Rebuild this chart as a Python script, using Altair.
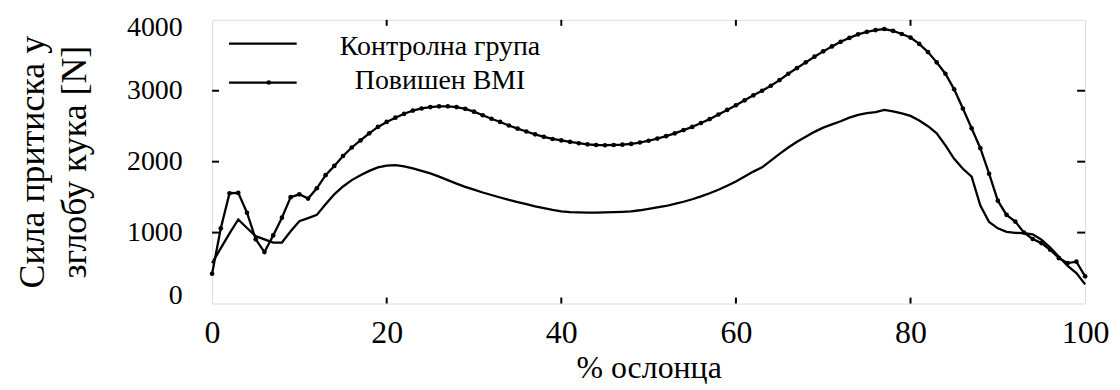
import altair as alt
import pandas as pd

# ---- data ----
pct = list(range(101))
control = [570, 780, 990, 1185, 1065, 950, 905, 860, 860, 1020,
           1160, 1205, 1250, 1400, 1540, 1650, 1740, 1810, 1870, 1920,
           1945, 1950, 1935, 1905, 1870, 1835, 1790, 1740, 1690, 1645,
           1605, 1565, 1530, 1495, 1460, 1430, 1400, 1370, 1345, 1320,
           1300, 1290, 1285, 1282, 1282, 1285, 1288, 1293, 1300, 1315,
           1335, 1355, 1375, 1405, 1435, 1470, 1510, 1555, 1605, 1660,
           1720, 1790, 1860, 1920, 2015, 2110, 2200, 2280, 2350, 2420,
           2480, 2525, 2570, 2620, 2660, 2685, 2700, 2730, 2710, 2680,
           2645, 2580, 2500, 2400, 2230, 2040, 1900, 1790, 1380, 1150,
           1060, 1010, 995, 992, 975, 900, 790, 660, 530, 430, 270]
bmi = [420, 1060, 1555, 1560, 1280, 905, 725, 960, 1210, 1500,
       1540, 1480, 1625, 1810, 1940, 2080, 2200, 2300, 2400, 2490,
       2560, 2620, 2675, 2720, 2750, 2770, 2780, 2780, 2770, 2745,
       2705, 2655, 2605, 2560, 2510, 2465, 2425, 2385, 2350, 2320,
       2300, 2280, 2260, 2245, 2235, 2232, 2235, 2240, 2250, 2270,
       2295, 2325, 2360, 2400, 2445, 2490, 2545, 2600, 2665, 2730,
       2795, 2865, 2935, 3000, 3070, 3150, 3240, 3320, 3400, 3480,
       3555, 3625, 3690, 3745, 3795, 3830, 3855, 3870, 3845, 3800,
       3750, 3660, 3545, 3400, 3240, 3020, 2750, 2470, 2190, 1830,
       1450, 1250, 1155, 1000, 910, 852, 758, 640, 570, 590, 383]
series_names = ["Контролна група", "Повишен BMI"]
x_ticks = [0, 20, 40, 60, 80, 100]
y_ticks = [0, 1000, 2000, 3000, 4000]
x_inner_ticks = [20, 40, 60, 80]
y_inner_ticks = [1000, 2000, 3000]
x_title = "% ослонца"
y_title = ["Сила притиска у", "зглобу кука [N]"]

FONT = "Liberation Serif, Times New Roman, serif"
W, H = 877, 285

df_c = pd.DataFrame({"pct": pct, "force": control})
df_b = pd.DataFrame({"pct": pct, "force": bmi})

xs = alt.Scale(domain=[0, 100], nice=False)
ys = alt.Scale(domain=[0, 4000], nice=False)

xaxis = alt.Axis(values=x_ticks, tickSize=0, domain=False, grid=False,
                 labelFont=FONT, labelFontSize=32, labelPadding=14,
                 labelColor="black", labelFlush=False, format="d",
                 title=x_title, titleFont=FONT, titleFontSize=32,
                 titleFontWeight="normal", titleColor="black", titlePadding=4)
yaxis = alt.Axis(values=y_ticks, tickSize=0, domain=False, grid=False,
                 labelFont=FONT, labelFontSize=28, labelPadding=30,
                 labelColor="black", labelFlush=True, labelFlushOffset=6,
                 format="d",
                 title=y_title, titleFont=FONT, titleFontSize=36,
                 titleFontWeight="normal", titleColor="black",
                 titlePadding=33, titleLineHeight=42)

line_c = alt.Chart(df_c).mark_line(color="black", strokeWidth=2.3).encode(
    x=alt.X("pct:Q", scale=xs, axis=xaxis),
    y=alt.Y("force:Q", scale=ys, axis=yaxis),
)
line_b = alt.Chart(df_b).mark_line(
    color="black", strokeWidth=2.3,
    point=alt.OverlayMarkDef(filled=True, color="black", size=22, opacity=1),
).encode(
    x=alt.X("pct:Q", scale=xs),
    y=alt.Y("force:Q", scale=ys),
)

# inner tick marks on the frame
df_xt = pd.DataFrame({"v": x_inner_ticks})
df_yt = pd.DataFrame({"v": y_inner_ticks})
tick_style = dict(color="black", strokeWidth=2)
xt_bottom = alt.Chart(df_xt).mark_rule(**tick_style).encode(
    x=alt.X("v:Q", scale=xs), y=alt.value(H), y2=alt.value(H - 6))
xt_top = alt.Chart(df_xt).mark_rule(**tick_style).encode(
    x=alt.X("v:Q", scale=xs), y=alt.value(0), y2=alt.value(6))
yt_left = alt.Chart(df_yt).mark_rule(**tick_style).encode(
    y=alt.Y("v:Q", scale=ys), x=alt.value(0), x2=alt.value(7))
yt_right = alt.Chart(df_yt).mark_rule(**tick_style).encode(
    y=alt.Y("v:Q", scale=ys), x=alt.value(W), x2=alt.value(W - 8))

# legend drawn inside the frame
leg_c = pd.DataFrame({"name": [series_names[0]]})
leg_b = pd.DataFrame({"name": [series_names[1]]})
leg_line_c = alt.Chart(leg_c).mark_rule(color="black", strokeWidth=2.3).encode(
    x=alt.value(17), x2=alt.value(85), y=alt.value(24))
leg_line_b = alt.Chart(leg_b).mark_rule(color="black", strokeWidth=2.3).encode(
    x=alt.value(17), x2=alt.value(85), y=alt.value(63))
leg_dot_b = alt.Chart(leg_b).mark_point(filled=True, color="black", size=22, opacity=1).encode(
    x=alt.value(57), y=alt.value(63))
leg_text_c = alt.Chart(leg_c).mark_text(font=FONT, fontSize=28, color="black",
                                        align="center", baseline="middle").encode(
    x=alt.value(229), y=alt.value(27), text="name:N")
leg_text_b = alt.Chart(leg_b).mark_text(font=FONT, fontSize=28, color="black",
                                        align="center", baseline="middle").encode(
    x=alt.value(229), y=alt.value(62), text="name:N")

chart = alt.layer(
    line_c, line_b, xt_bottom, xt_top, yt_left, yt_right,
    leg_line_c, leg_line_b, leg_dot_b, leg_text_c, leg_text_b,
).properties(
    width=W, height=H,
    autosize=alt.AutoSizeParams(type="none"),
    padding={"left": 205, "top": 11, "right": 27, "bottom": 86},
).configure_view(
    stroke="black", strokeWidth=3,
).configure(background="white")

chart.save("out.html", embed_options={"renderer": "svg", "actions": False})
